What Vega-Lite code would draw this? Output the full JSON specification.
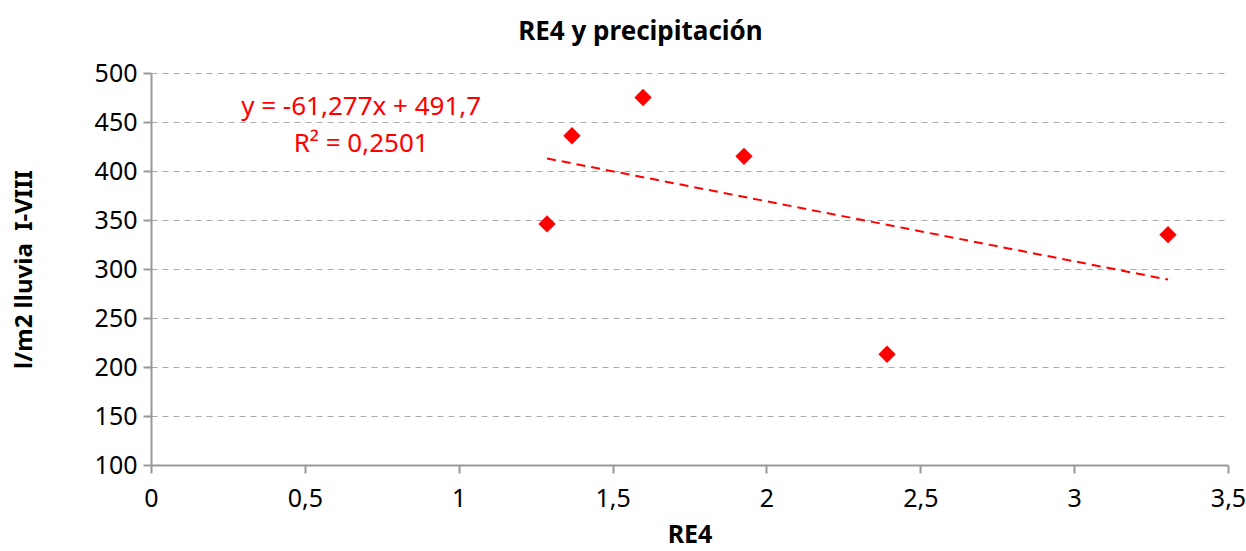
{
  "$schema": "https://vega.github.io/schema/vega-lite/v6.json",
  "autosize": "none",
  "width": 1077,
  "height": 392,
  "padding": {"left": 151, "top": 73, "right": 18, "bottom": 86},
  "background": "white",
  "config": {
    "locale": {"number": {"decimal": ",", "thousands": ".", "grouping": [3], "currency": ["", " €"]}},
    "view": {"stroke": null},
    "font": "Noto Sans"
  },
  "title": {
    "text": "RE4 y precipitación",
    "fontSize": 26,
    "fontWeight": "bold",
    "font": "Noto Sans",
    "color": "black",
    "anchor": "middle",
    "dx": -49,
    "offset": 16
  },
  "datasets": {
    "pts": [
      {"re4": 1.287, "lluvia": 346},
      {"re4": 1.368, "lluvia": 436},
      {"re4": 1.599, "lluvia": 475},
      {"re4": 1.927, "lluvia": 415},
      {"re4": 2.392, "lluvia": 213},
      {"re4": 3.305, "lluvia": 335}
    ],
    "trend": [
      {"re4": 1.287, "lluvia": 412.8},
      {"re4": 3.305, "lluvia": 289.2}
    ],
    "labels": [
      {"re4": 0.683, "lluvia": 465.3, "t": "y = -61,277x + 491,7"},
      {"re4": 0.683, "lluvia": 427.6, "t": "R² = 0,2501"}
    ]
  },
  "layer": [
    {
      "data": {"name": "trend"},
      "mark": {"type": "line", "color": "red", "strokeWidth": 2, "strokeDash": [9, 6]},
      "encoding": {
        "x": {
          "field": "re4", "type": "quantitative",
          "scale": {"domain": [0, 3.5], "nice": false, "zero": false},
          "axis": {
            "title": "RE4", "titleFontSize": 25, "titleFontWeight": "bold", "titleColor": "black", "titlePadding": 11,
            "values": [0, 0.5, 1, 1.5, 2, 2.5, 3, 3.5], "format": ",.1~f",
            "labelFontSize": 25, "labelColor": "black", "labelPadding": 13, "labelFlush": false,
            "domainColor": "#999999", "domainWidth": 2, "tickColor": "#999999", "tickWidth": 2, "tickSize": 8,
            "grid": false
          }
        },
        "y": {
          "field": "lluvia", "type": "quantitative",
          "scale": {"domain": [100, 500], "nice": false, "zero": false},
          "axis": {
            "title": "l/m2 lluvia\u00a0\u00a0I-VIII", "titleFontSize": 24, "titleFontWeight": "bold", "titleColor": "black", "titlePadding": 58,
            "values": [100, 150, 200, 250, 300, 350, 400, 450, 500],
            "labelFontSize": 25, "labelColor": "black", "labelPadding": 6,
            "domainColor": "#999999", "domainWidth": 2, "tickColor": "#999999", "tickWidth": 2, "tickSize": 8,
            "grid": true, "gridColor": "#aaaaaa", "gridDash": [6, 5], "gridWidth": 1
          }
        }
      }
    },
    {
      "data": {"name": "pts"},
      "mark": {"type": "point", "shape": "diamond", "filled": true, "color": "red", "size": 300, "opacity": 1},
      "encoding": {
        "x": {"field": "re4", "type": "quantitative"},
        "y": {"field": "lluvia", "type": "quantitative"}
      }
    },
    {
      "data": {"name": "labels"},
      "mark": {"type": "text", "color": "red", "fontSize": 26, "align": "center", "baseline": "middle"},
      "encoding": {
        "x": {"field": "re4", "type": "quantitative"},
        "y": {"field": "lluvia", "type": "quantitative"},
        "text": {"field": "t"}
      }
    }
  ]
}
